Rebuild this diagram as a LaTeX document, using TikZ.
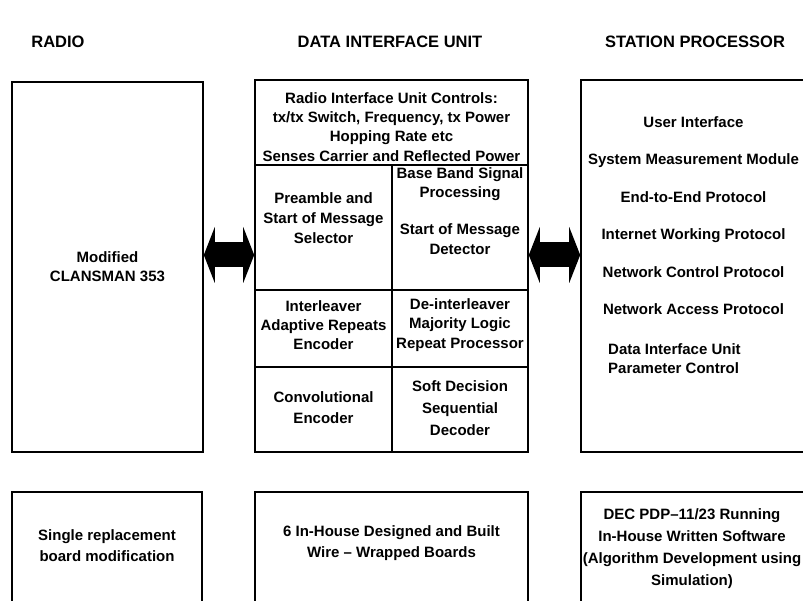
\documentclass[tikz,border=0pt]{standalone}
\usepackage{fontspec}
\setmainfont{Liberation Sans}
\usetikzlibrary{arrows.meta, positioning}

\tikzset{
  blk/.style={draw, line width=1.6pt, rectangle, inner sep=0pt},
  txt/.style={align=center, inner sep=0pt, font=\bfseries\fontsize{15}{19.2}\selectfont},
  head/.style={inner sep=0pt, font=\bfseries\fontsize{16.5}{19}\selectfont},
  bigarrow/.style={line width=25pt, {Triangle[length=11pt, width=56pt, line width=0pt]}-{Triangle[length=11pt, width=56pt, line width=0pt]}},
}

\begin{document}
\begin{tikzpicture}[x=1pt, y=-1pt]
	\useasboundingbox (0,0) rectangle (803,601);
	\clip (0,0) rectangle (803,601);
	
	\node[head] (hradio) at (58,42) {RADIO};
	
	\node[head] (hdiu) at (390,42) {DATA INTERFACE UNIT};
	
	\node[head] (hsp) at (695,42) {STATION PROCESSOR};
	
	% radio
	\node[blk, minimum width=191, minimum height=370] (radio) at (107.5,267) {};
	
	\node[txt] (radiotxt) at (107.5,267) {Modified\\CLANSMAN 353};
	
	% data interface unit
	\node[blk, minimum width=273, minimum height=372] (diu) at (391.5,266) {};
	
	\node[blk, minimum width=273, minimum height=85] (ctrl) at (391.5,122.5) {};
	
	\node[blk, minimum width=137, minimum height=125] (pre) at (323.5,227.5) {};
	
	\node[blk, minimum width=136, minimum height=125] (bbs) at (460,227.5) {};
	
	\node[blk, minimum width=137, minimum height=77] (ilv) at (323.5,328.5) {};
	
	\node[blk, minimum width=136, minimum height=77] (dil) at (460,328.5) {};
	
	\node[blk, minimum width=137, minimum height=85] (cnv) at (323.5,409.5) {};
	
	\node[blk, minimum width=136, minimum height=85] (sdd) at (460,409.5) {};
	
	\node[txt] (ctrltxt) at (391.5,127) {Radio Interface Unit Controls:\\tx/tx Switch, Frequency, tx Power\\Hopping Rate etc\\Senses Carrier and Reflected Power};
	
	\node[txt] (pretxt) at (323.5,218) {Preamble and\\[1pt]Start of Message\\[1pt]Selector};
	
	\node[txt] (bbstxt) at (460,211) {Base Band Signal\\Processing\\[18pt]Start of Message\\Detector};
	
	\node[txt] (ilvtxt) at (323.5,325) {Interleaver\\Adaptive Repeats\\Encoder};
	
	\node[txt] (diltxt) at (460,325) {De-interleaver\\Majority Logic\\Repeat Processor};
	
	\node[txt] (cnvtxt) at (323.5,407.5) {Convolutional\\[2pt]Encoder};
	
	\node[txt] (sddtxt) at (460,408) {Soft Decision\\[3pt]Sequential\\[3pt]Decoder};
	
	% station processor
	\node[blk, minimum width=225, minimum height=372] (sp) at (693.5,266) {};
	
	\node[txt] (sptxt) at (693.5,215.5) {User Interface\\[18.3pt]System Measurement Module\\[18.3pt]End-to-End Protocol\\[18.3pt]Internet Working Protocol\\[18.3pt]Network Control Protocol\\[18.3pt]Network Access Protocol};
	
	\node[txt, align=left, anchor=west] (dpc) at (608,358.5) {Data Interface Unit\\Parameter Control};
	
	% implementation boxes
	\node[blk, minimum width=190, minimum height=140] (radioimp) at (107,562) {};
	
	\node[blk, minimum width=273, minimum height=140] (diuimp) at (391.5,562) {};
	
	\node[blk, minimum width=225, minimum height=140] (spimp) at (693.5,562) {};
	
	\node[txt, font=\bfseries\fontsize{15}{21}\selectfont] (radioimptxt) at (107,545.5) {Single replacement\\board modification};
	
	\node[txt, font=\bfseries\fontsize{15}{21}\selectfont] (diuimptxt) at (391.5,543.5) {6 In-House Designed and Built\\Wire -- Wrapped Boards};
	
	\node[txt, font=\bfseries\fontsize{15}{22}\selectfont] (spimptxt) at (692,549) {DEC PDP--11/23 Running\\In-House Written Software\\(Algorithm Development using\\Simulation)};
	
	% links
	\coordinate (lnk) at (0,255);
	
	\draw[bigarrow] (radio.east |- lnk) -- (diu.west |- lnk);
	
	\draw[bigarrow] (diu.east |- lnk) -- (sp.west |- lnk);
\end{tikzpicture}
\end{document}
